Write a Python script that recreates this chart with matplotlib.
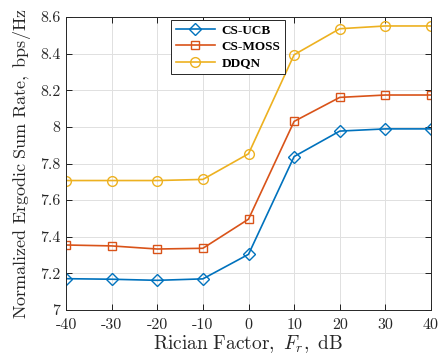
import matplotlib
matplotlib.use("Agg")
import matplotlib.pyplot as plt

x = [-40, -30, -20, -10, 0, 10, 20, 30, 40]
xtick_labels = ["-40", "-30", "-20", "-10", "0", "10", "20", "30", "40"]
cs_ucb = [7.171, 7.168, 7.162, 7.170, 7.304, 7.838, 7.977, 7.989, 7.989]
cs_moss = [7.355, 7.350, 7.333, 7.337, 7.496, 8.030, 8.161, 8.174, 8.174]
ddqn = [7.707, 7.707, 7.707, 7.713, 7.853, 8.394, 8.536, 8.551, 8.551]
yticks = [7, 7.2, 7.4, 7.6, 7.8, 8, 8.2, 8.4, 8.6]
ytick_labels = ["7", "7.2", "7.4", "7.6", "7.8", "8", "8.2", "8.4", "8.6"]

plt.rcParams['mathtext.fontset'] = 'cm'

fig = plt.figure(figsize=(4.45, 3.61), dpi=100)
ax = fig.add_axes([66/445, 1-310/361, (431-66)/445, (310-17)/361])

ax.plot(x, cs_ucb, color='#0072BD', marker='D', markersize=6, markerfacecolor='none',
        markeredgewidth=1.0, linewidth=1.2, label='CS-UCB')
ax.plot(x, cs_moss, color='#D95319', marker='s', markersize=6, markerfacecolor='none',
        markeredgewidth=1.0, linewidth=1.2, label='CS-MOSS')
ax.plot(x, ddqn, color='#EDB120', marker='o', markersize=7, markerfacecolor='none',
        markeredgewidth=1.0, linewidth=1.2, label='DDQN')

ax.set_xlim(-40, 40)
ax.set_ylim(7, 8.6)
ax.set_xticks(x)
ax.set_xticklabels(xtick_labels)
ax.set_yticks(yticks)
ax.set_yticklabels(ytick_labels)
for lab in ax.get_xticklabels() + ax.get_yticklabels():
    lab.set_family('cmr10')
    lab.set_fontsize(11.5)
    lab.set_color('#262626')
ax.tick_params(direction='in', length=4, width=0.6, top=True, right=True)
ax.tick_params(axis='x', pad=6)
ax.tick_params(axis='y', pad=4)
ax.grid(True, color='#e0e0e0', linewidth=0.7)
ax.set_axisbelow(True)
for s in ax.spines.values():
    s.set_linewidth(0.7)
    s.set_color('#262626')

ax.set_xlabel(r'$\mathrm{Rician\ Factor,}\ F_r\mathrm{,\ dB}$', fontsize=14, color='#262626', labelpad=1)
ax.set_ylabel(r'$\mathrm{Normalized\ Ergodic\ Sum\ Rate,\ bps/Hz}$', fontsize=13, color='#262626', labelpad=5)

leg = ax.legend(loc='upper left', bbox_to_anchor=((171-66)/365, 1-(20-17)/293),
                prop={'family': 'Liberation Serif', 'weight': 'bold', 'size': 9.5},
                frameon=True, fancybox=False, edgecolor='#262626', framealpha=1,
                handlelength=3.0, borderpad=0.35, labelspacing=0.3, handletextpad=0.5,
                borderaxespad=0)
leg.get_frame().set_linewidth(0.7)

fig.savefig('out.png', dpi=100)
